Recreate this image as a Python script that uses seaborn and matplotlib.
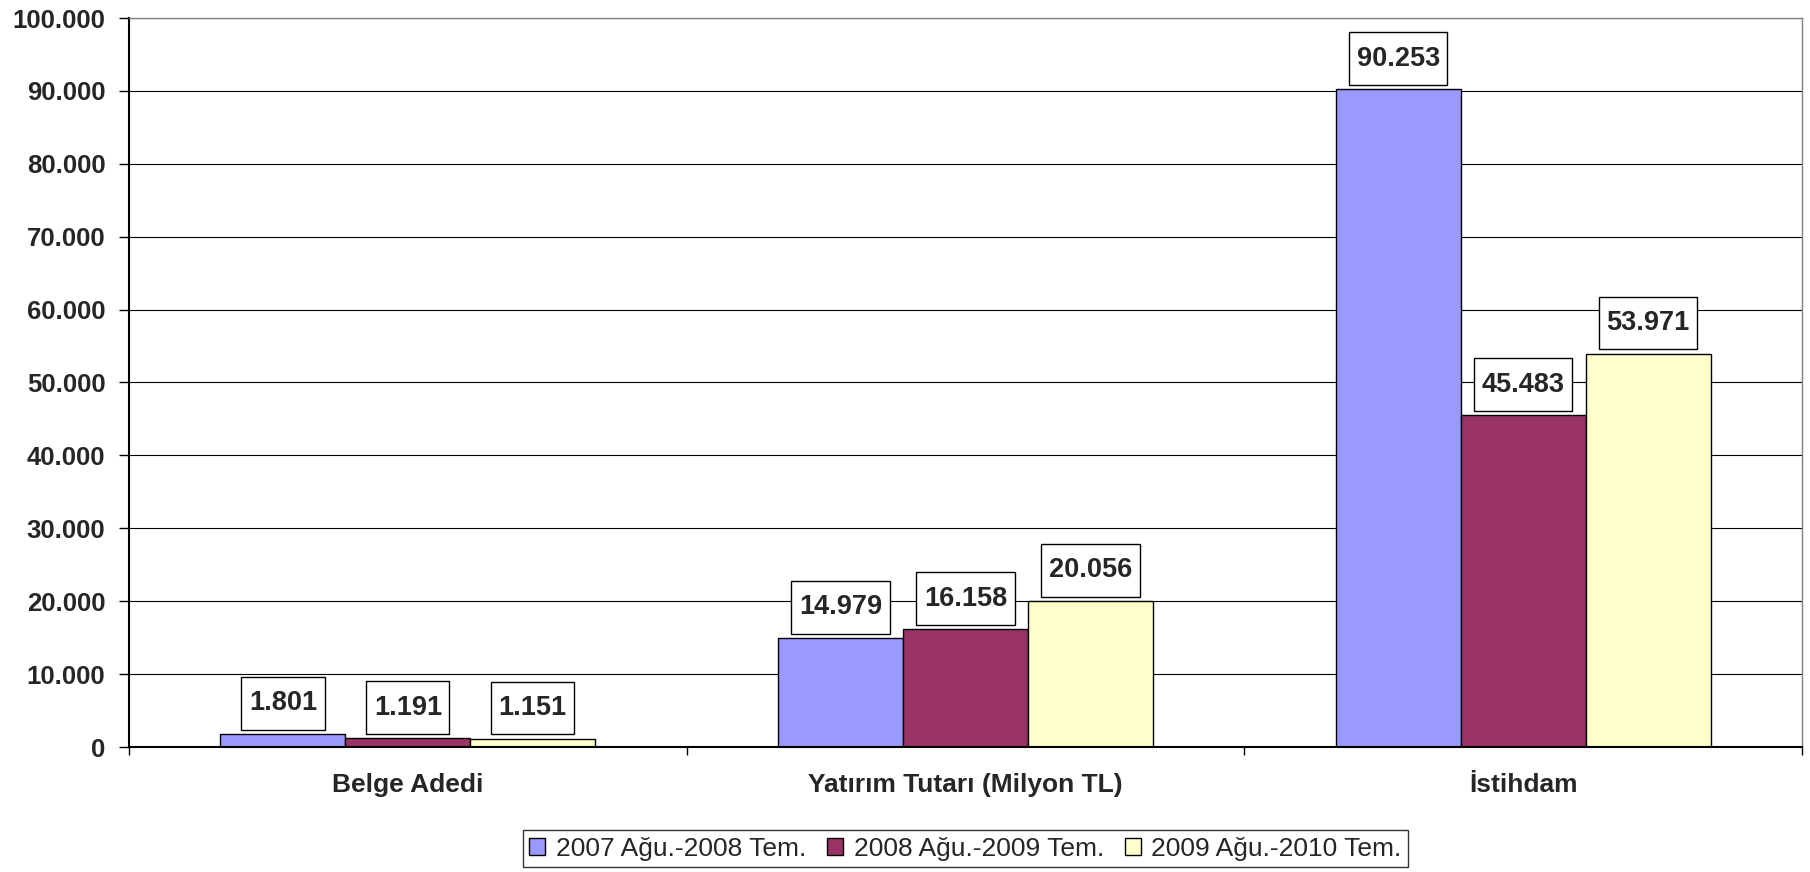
import numpy as np
import pandas as pd
import matplotlib
matplotlib.use("Agg")
import matplotlib.pyplot as plt
from matplotlib.path import Path
from matplotlib.ticker import FuncFormatter
import seaborn as sns

# data
categories = ["Belge Adedi", "Yatırım Tutarı (Milyon TL)", "İstihdam"]
periods = ["2007 Ağu.-2008 Tem.", "2008 Ağu.-2009 Tem.", "2009 Ağu.-2010 Tem."]
vals_2008 = [1801, 14979, 90253]
vals_2009 = [1191, 16158, 45483]
vals_2010 = [1151, 20056, 53971]
colors = ["#9999FF", "#993366", "#FFFFCC"]

df = pd.DataFrame({
    "kategori": categories * 3,
    "donem": np.repeat(periods, 3),
    "deger": vals_2008 + vals_2009 + vals_2010,
})


def dotted(v, pos=None):
    return f"{int(v):,}".replace(",", ".")


def label_box(x0, y0, width, height, mutation_size):
    # excel-like label box: a bit taller than matplotlib's square pad
    px = 0.28 * mutation_size
    py = max(0.0, (1.95 * mutation_size - height) / 2)
    verts = [(x0 - px, y0 - py), (x0 + width + px, y0 - py),
             (x0 + width + px, y0 + height + py), (x0 - px, y0 + height + py),
             (x0 - px, y0 - py)]
    return Path(verts, closed=True)


sns.set_style("ticks")
plt.rcParams["font.family"] = ["Liberation Sans", "DejaVu Sans"]

fig = plt.figure(figsize=(18.1, 8.72), dpi=100)
ax = fig.add_axes([129 / 1810, 125 / 872, 1673 / 1810, 729 / 872])

sns.barplot(data=df, x="kategori", y="deger", hue="donem", order=categories,
            hue_order=periods, palette=colors, width=0.672, edgecolor="black",
            linewidth=1.0, saturation=1, ax=ax)

# boxed value labels
for cont, vals in zip(ax.containers, [vals_2008, vals_2009, vals_2010]):
    for bar, v in zip(cont.patches, vals):
        ax.annotate(dotted(v), (bar.get_x() + bar.get_width() / 2, bar.get_height()),
                    xytext=(0, 22), textcoords="offset points",
                    ha="center", va="center", fontsize=19.5, fontweight="bold",
                    bbox=dict(boxstyle=label_box, fc="white", ec="black", lw=1.0))

ax.set_ylim(0, 100000)
ax.set_xlim(-0.5, 2.5)
ax.set_yticks(np.arange(0, 100001, 10000))
ax.yaxis.set_major_formatter(FuncFormatter(dotted))
ax.yaxis.grid(True, color="black", lw=0.8)
ax.set_axisbelow(True)

ax.set_xticks([-0.5, 0.5, 1.5, 2.5], minor=True)
ax.tick_params(axis="x", which="major", length=0, pad=19, labelsize=19)
ax.tick_params(axis="x", which="minor", length=6, width=1, direction="out", color="black")
ax.tick_params(axis="y", length=7, width=1, pad=10, labelsize=18.5, color="black")
for lab in ax.get_xticklabels() + ax.get_yticklabels():
    lab.set_fontweight("bold")

ax.set_xlabel("")
ax.set_ylabel("")
for side in ["left", "bottom"]:
    ax.spines[side].set_color("black")
    ax.spines[side].set_linewidth(1.5)
for side in ["top", "right"]:
    ax.spines[side].set_visible(True)
    ax.spines[side].set_color("#808080")
    ax.spines[side].set_linewidth(1.0)

sns.move_legend(ax, "upper center", bbox_to_anchor=(0.5, -0.114), ncol=3,
                title=None, frameon=True, fancybox=False, edgecolor="black",
                fontsize=19, handlelength=0.6, handleheight=0.6,
                handletextpad=0.4, columnspacing=0.8, borderpad=0.25,
                borderaxespad=0)
leg = ax.get_legend()
leg.get_frame().set_linewidth(1.0)

fig.savefig("out.png", dpi=100, facecolor="white")
